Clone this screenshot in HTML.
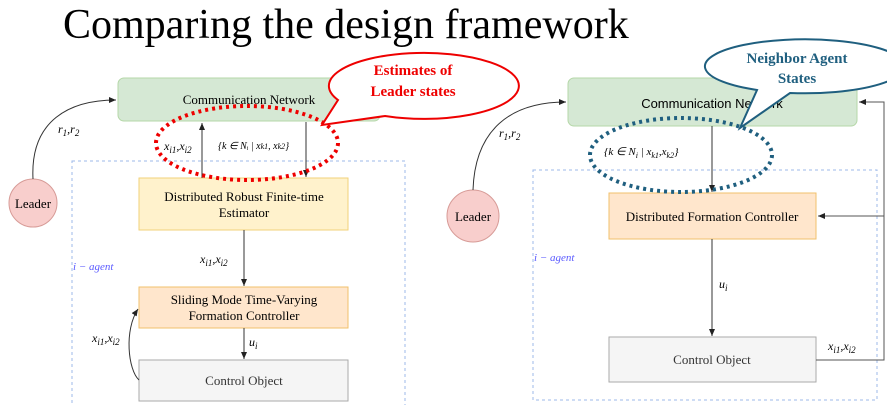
<!DOCTYPE html>
<html><head><style>
body{margin:0;background:#fff;width:887px;height:405px;overflow:hidden}
svg{display:block}
.s{font-family:"Liberation Serif",serif}
.a{font-family:"Liberation Sans",sans-serif}
.m{font-family:"Liberation Serif",serif;font-style:italic}
</style></head><body>
<svg width="887" height="405" viewBox="0 0 887 405" xmlns="http://www.w3.org/2000/svg">
<defs><marker id="ar" markerWidth="8" markerHeight="8" refX="7" refY="4" orient="auto" markerUnits="userSpaceOnUse"><path d="M0,1 L7,4 L0,7 Z" fill="#222"/></marker></defs>
<text x="63" y="38" class="s" font-size="42" fill="#000">Comparing the design framework</text>

<!-- LEFT -->
<rect x="72" y="161" width="333" height="250" fill="none" stroke="#9db8e8" stroke-dasharray="3,3"/>
<rect x="118" y="78" width="262" height="43" rx="6" fill="#d5e8d4" stroke="#b5d7a8"/>
<text x="249" y="104" class="s" font-size="13" text-anchor="middle">Communication Network</text>
<circle cx="33" cy="203" r="24" fill="#f8cecc" stroke="#d79b97"/>
<text x="33" y="208" class="s" font-size="13" text-anchor="middle">Leader</text>
<path d="M33,179 C30,120 70,100 116,100" fill="none" stroke="#333" marker-end="url(#ar)"/>
<text x="58" y="133" class="m" font-size="12">r<tspan font-size="9" dy="3">1</tspan><tspan dy="-3">,r</tspan><tspan font-size="9" dy="3">2</tspan></text>
<rect x="139" y="178" width="209" height="52" fill="#fff2cc" stroke="#f2d27a"/>
<text x="244" y="201" class="s" font-size="13" text-anchor="middle">Distributed Robust Finite-time</text>
<text x="244" y="217" class="s" font-size="13" text-anchor="middle">Estimator</text>
<rect x="139" y="287" width="209" height="41" fill="#ffe6cc" stroke="#f2c06b"/>
<text x="244" y="304" class="s" font-size="13" text-anchor="middle">Sliding Mode Time-Varying</text>
<text x="244" y="320" class="s" font-size="13" text-anchor="middle">Formation Controller</text>
<rect x="139" y="360" width="209" height="41" fill="#f5f5f5" stroke="#aaa"/>
<text x="244" y="385" class="s" font-size="13" text-anchor="middle" fill="#333">Control Object</text>
<line x1="202" y1="178" x2="202" y2="123" stroke="#333" marker-end="url(#ar)"/>
<line x1="306" y1="122" x2="306" y2="177" stroke="#333" marker-end="url(#ar)"/>
<line x1="244" y1="230" x2="244" y2="286" stroke="#333" marker-end="url(#ar)"/>
<line x1="244" y1="328" x2="244" y2="359" stroke="#333" marker-end="url(#ar)"/>
<path d="M139,380 C128,370 124,330 138,309" fill="none" stroke="#333" marker-end="url(#ar)"/>
<text x="164" y="150" class="m" font-size="12">x<tspan font-size="9" dy="3">i1</tspan><tspan dy="-3">,x</tspan><tspan font-size="9" dy="3">i2</tspan></text>
<text x="218" y="149" class="m" font-size="10">{k ∈ Nᵢ | x<tspan font-size="8">k1</tspan>, x<tspan font-size="8">k2</tspan>}</text>
<text x="200" y="263" class="m" font-size="12">x<tspan font-size="9" dy="3">i1</tspan><tspan dy="-3">,x</tspan><tspan font-size="9" dy="3">i2</tspan></text>
<text x="92" y="342" class="m" font-size="12">x<tspan font-size="9" dy="3">i1</tspan><tspan dy="-3">,x</tspan><tspan font-size="9" dy="3">i2</tspan></text>
<text x="249" y="346" class="m" font-size="12">u<tspan font-size="9" dy="3">i</tspan></text>
<text x="73" y="270" class="m" font-size="11" fill="#5b5bff">i − agent</text>
<ellipse cx="247" cy="143" rx="91" ry="37" fill="none" stroke="#e00" stroke-width="4" stroke-dasharray="3,4"/>
<path d="M338,100 A95,33 0 1,1 385,116 L322,125 Z" fill="#fff" stroke="#e00" stroke-width="2"/>
<text x="413" y="75" class="s" font-size="15" font-weight="bold" fill="#e00" text-anchor="middle">Estimates of</text>
<text x="413" y="96" class="s" font-size="15" font-weight="bold" fill="#e00" text-anchor="middle">Leader states</text>

<!-- RIGHT -->
<rect x="533" y="170" width="344" height="230" fill="none" stroke="#9db8e8" stroke-dasharray="3,3"/>
<rect x="568" y="78" width="289" height="48" rx="6" fill="#d5e8d4" stroke="#b5d7a8"/>
<text x="712" y="108" class="a" font-size="13" text-anchor="middle">Communication Network</text>
<circle cx="473" cy="216" r="26" fill="#f8cecc" stroke="#d79b97"/>
<text x="473" y="221" class="s" font-size="13" text-anchor="middle">Leader</text>
<path d="M473,190 C475,130 510,102 566,102" fill="none" stroke="#333" marker-end="url(#ar)"/>
<text x="499" y="137" class="m" font-size="12">r<tspan font-size="9" dy="3">1</tspan><tspan dy="-3">,r</tspan><tspan font-size="9" dy="3">2</tspan></text>
<rect x="609" y="193" width="207" height="46" fill="#ffe6cc" stroke="#f2c06b"/>
<text x="712" y="221" class="s" font-size="13" text-anchor="middle">Distributed Formation Controller</text>
<rect x="609" y="337" width="207" height="45" fill="#f5f5f5" stroke="#aaa"/>
<text x="712" y="364" class="s" font-size="13" text-anchor="middle" fill="#333">Control Object</text>
<line x1="712" y1="126" x2="712" y2="192" stroke="#333" marker-end="url(#ar)"/>
<line x1="712" y1="239" x2="712" y2="336" stroke="#333" marker-end="url(#ar)"/>
<path d="M816,360 H884 V102 H859" fill="none" stroke="#555" marker-end="url(#ar)"/>
<line x1="884" y1="216" x2="818" y2="216" stroke="#555" marker-end="url(#ar)"/>
<text x="719" y="288" class="m" font-size="12">u<tspan font-size="9" dy="3">i</tspan></text>
<text x="828" y="350" class="m" font-size="12">x<tspan font-size="9" dy="3">i1</tspan><tspan dy="-3">,x</tspan><tspan font-size="9" dy="3">i2</tspan></text>
<text x="604" y="155" class="m" font-size="11">{k ∈ N<tspan font-size="8" dy="3">i</tspan><tspan dy="-3"> | x</tspan><tspan font-size="8" dy="3">k1</tspan><tspan dy="-3">,x</tspan><tspan font-size="8" dy="3">k2</tspan><tspan dy="-3">}</tspan></text>
<text x="534" y="261" class="m" font-size="11" fill="#5b5bff">i − agent</text>
<ellipse cx="681" cy="155" rx="91" ry="37" fill="none" stroke="#1f5f7f" stroke-width="4" stroke-dasharray="3,4"/>
<path d="M757,90 A100,27 0 1,1 790,93 L740,128 Z" fill="#fff" stroke="#1f5f7f" stroke-width="2"/>
<text x="797" y="63" class="s" font-size="15" font-weight="bold" fill="#1f5f7f" text-anchor="middle">Neighbor Agent</text>
<text x="797" y="83" class="s" font-size="15" font-weight="bold" fill="#1f5f7f" text-anchor="middle">States</text>
</svg>
</body></html>
